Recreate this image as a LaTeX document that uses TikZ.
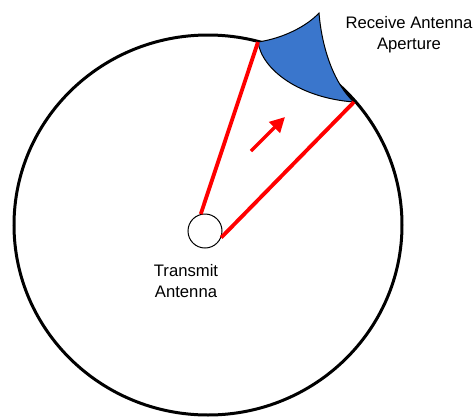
\documentclass[tikz,border=0pt]{standalone}
\usepackage{fontspec}
\setmainfont{Liberation Sans}
\usetikzlibrary{arrows.meta,positioning}
\definecolor{beam}{HTML}{FF0000}
\definecolor{aperture}{HTML}{3A76CC}

\begin{document}
\begin{tikzpicture}[x=0.6pt,y=-0.6pt,
  lbl/.style={align=center,font=\fontsize{10}{12.5}\selectfont,inner sep=0pt},
  ray/.style={line width=2.3pt,color=beam},
  arr/.style={-{Triangle[length=9pt,width=9pt]},line width=2.1pt,color=beam}]
\useasboundingbox (0,0) rectangle (475,417);
% sphere reached by the wave
\draw[line width=1.8pt] (208,225) ellipse[x radius=194,y radius=190];
\coordinate (rl) at (258,42);
\coordinate (rr) at (354,102);
\coordinate (rt) at (319,13);
% receive aperture
\filldraw[fill=aperture,draw=black,line width=0.6pt]
  (rl) .. controls (285,38) and (308,25) .. (rt)
       .. controls (322,50) and (335,85) .. (rr)
       .. controls (300,98) and (262,70) .. (rl) -- cycle;
\node[circle,draw,line width=0.6pt,minimum size=20.4pt,inner sep=0pt] (tx) at (205,231) {};
\draw[ray] (tx.104) -- (rl);
\draw[ray] (tx.-22) -- (rr);
\coordinate (a0) at (251,151);
\coordinate (a1) at (285,117);
\draw[arr] (a0) -- (a1);
\node[lbl] (txl) at (186,281) {Transmit\\Antenna};
\node[lbl] (rxl) at (409,35) {Receive Antenna\\Aperture};
\end{tikzpicture}
\end{document}
